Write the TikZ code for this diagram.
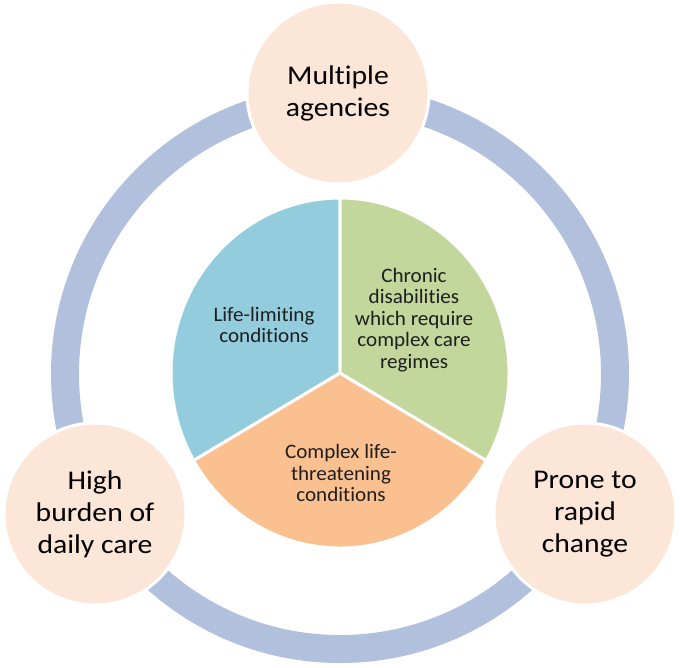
\documentclass[tikz,border=0pt]{standalone}
\usepackage{fontspec}
\setmainfont{Carlito}[Ligatures={NoCommon}]
\newfontfamily\widefont{Carlito}[FakeStretch=1.1, Ligatures={NoCommon}]
\newfontfamily\midfont{Carlito}[FakeStretch=1.03, Ligatures={NoCommon}]
\definecolor{ringc}{RGB}{176,192,221}
\definecolor{peach}{RGB}{252,230,215}
\definecolor{segblue}{RGB}{147,205,221}
\definecolor{seggreen}{RGB}{195,214,155}
\definecolor{segorange}{RGB}{250,192,144}
\definecolor{txt}{RGB}{30,30,30}
\tikzset{
  bubble/.style={circle, minimum size=182pt, inner sep=0pt, fill=peach, draw=white, line width=3pt,
    align=center, font=\widefont\fontsize{27}{32}\selectfont, text=black},
  segtext/.style={align=center, font=\midfont\fontsize{20.5}{21.5}\selectfont, text=txt},
  seg/.style={draw=white, line width=3pt, line join=round}
}
\begin{document}
\begin{tikzpicture}[x=1pt,y=-1pt]
\useasboundingbox (0,0) rectangle (680,667);
\coordinate (rc) at (340,374);
\coordinate (pc) at (340,373);
% ring
\draw[ringc, line width=28pt] (rc) circle[radius=275pt];
% pie
\filldraw[seg, fill=segblue] (pc) -- ++(90:169pt and 175pt) arc[start angle=90, end angle=210, x radius=169pt, y radius=175pt] -- cycle;
\filldraw[seg, fill=segorange] (pc) -- ++(210:169pt and 175pt) arc[start angle=210, end angle=330, x radius=169pt, y radius=175pt] -- cycle;
\filldraw[seg, fill=seggreen] (pc) -- ++(330:169pt and 175pt) arc[start angle=330, end angle=450, x radius=169pt, y radius=175pt] -- cycle;
\node[segtext] (lim) at (264,325) {Life-limiting\\conditions};
\node[segtext] (chr) at (414,320) {Chronic\\disabilities\\which require\\complex care\\regimes};
\node[segtext] (cpx) at (341,473) {Complex life-\\threatening\\conditions};
% bubbles
\node[bubble] (top) at (338,93) {Multiple\\agencies};
\node[bubble] (left) at (95,514) {High\\burden of\\daily care};
\node[bubble] (right) at (585,514) {Prone to\\rapid\\change};
\end{tikzpicture}
\end{document}
